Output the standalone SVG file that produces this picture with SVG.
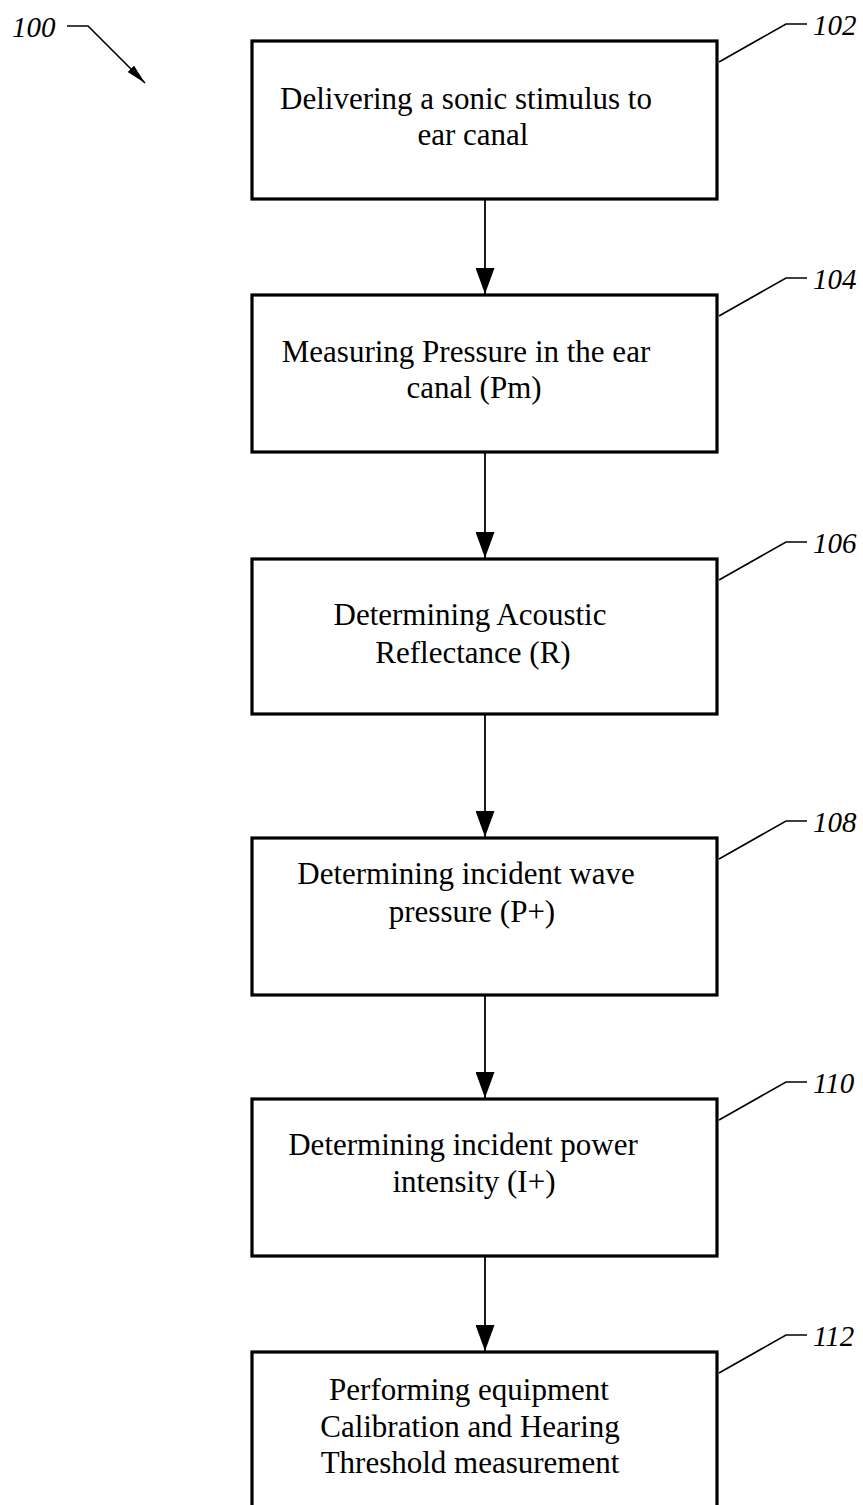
<svg xmlns="http://www.w3.org/2000/svg" width="863" height="1505" viewBox="0 0 863 1505">
<style>
.box{fill:#fff;stroke:#000;stroke-width:3.2}
.t{font-family:"Liberation Serif","Times New Roman",serif;font-size:31px;fill:#000;text-anchor:middle}
.ref{font-family:"Liberation Serif","Times New Roman",serif;font-size:29px;font-style:italic;fill:#000}
.ld{fill:none;stroke:#000;stroke-width:1.6}
.ar{fill:none;stroke:#000;stroke-width:1.8}
</style>
<defs>
<marker id="ah" viewBox="0 0 26 19" refX="26" refY="9.5" markerWidth="26" markerHeight="19" markerUnits="userSpaceOnUse" orient="auto">
<path d="M0,0 L26,9.5 L0,19 Z" fill="#000"/>
</marker>
<marker id="ah2" viewBox="0 0 20 9" refX="20" refY="4.5" markerWidth="20" markerHeight="9" markerUnits="userSpaceOnUse" orient="auto">
<path d="M0,0 L20,4.5 L0,9 Z" fill="#000"/>
</marker>
</defs>
<rect width="863" height="1505" fill="#fff"/>
<g id="connectors">
<line class="ar" x1="485" y1="199" x2="485" y2="294" marker-end="url(#ah)"/>
<line class="ar" x1="485" y1="452" x2="485" y2="558" marker-end="url(#ah)"/>
<line class="ar" x1="485" y1="714" x2="485" y2="837" marker-end="url(#ah)"/>
<line class="ar" x1="485" y1="995" x2="485" y2="1098" marker-end="url(#ah)"/>
<line class="ar" x1="485" y1="1256" x2="485" y2="1351" marker-end="url(#ah)"/>
</g>
<g id="label100">
<text class="ref" x="12" y="37">100</text>
<path class="ld" d="M67,26 L88,26 L145,83" marker-end="url(#ah2)"/>
</g>
<g id="n102">
<rect class="box" x="252" y="41" width="465" height="158"/>
<text class="t" x="466" y="109">Delivering a sonic stimulus to</text>
<text class="t" x="473" y="145">ear canal</text>
<path class="ld" d="M719,62 L786,24 L807,24"/>
<text class="ref" x="813" y="35">102</text>
</g>
<g id="n104">
<rect class="box" x="252" y="295" width="465" height="157"/>
<text class="t" x="466" y="362">Measuring Pressure in the ear</text>
<text class="t" x="474" y="398">canal (Pm)</text>
<path class="ld" d="M719,316 L786,278 L807,278"/>
<text class="ref" x="813" y="289">104</text>
</g>
<g id="n106">
<rect class="box" x="252" y="559" width="465" height="155"/>
<text class="t" x="470" y="625">Determining Acoustic</text>
<text class="t" x="473" y="663">Reflectance (R)</text>
<path class="ld" d="M719,580 L786,542 L807,542"/>
<text class="ref" x="813" y="553">106</text>
</g>
<g id="n108">
<rect class="box" x="252" y="838" width="465" height="157"/>
<text class="t" x="466" y="884">Determining incident wave</text>
<text class="t" x="472" y="922">pressure (P+)</text>
<path class="ld" d="M719,859 L786,821 L807,821"/>
<text class="ref" x="813" y="832">108</text>
</g>
<g id="n110">
<rect class="box" x="252" y="1099" width="465" height="157"/>
<text class="t" x="463" y="1155">Determining incident power</text>
<text class="t" x="474" y="1192">intensity (I+)</text>
<path class="ld" d="M719,1120 L786,1082 L807,1082"/>
<text class="ref" x="813" y="1093">110</text>
</g>
<g id="n112">
<rect class="box" x="252" y="1352" width="465" height="170"/>
<text class="t" x="469" y="1400">Performing equipment</text>
<text class="t" x="470" y="1437">Calibration and Hearing</text>
<text class="t" x="470" y="1473">Threshold measurement</text>
<path class="ld" d="M719,1373 L786,1335 L807,1335"/>
<text class="ref" x="813" y="1346">112</text>
</g>
</svg>
